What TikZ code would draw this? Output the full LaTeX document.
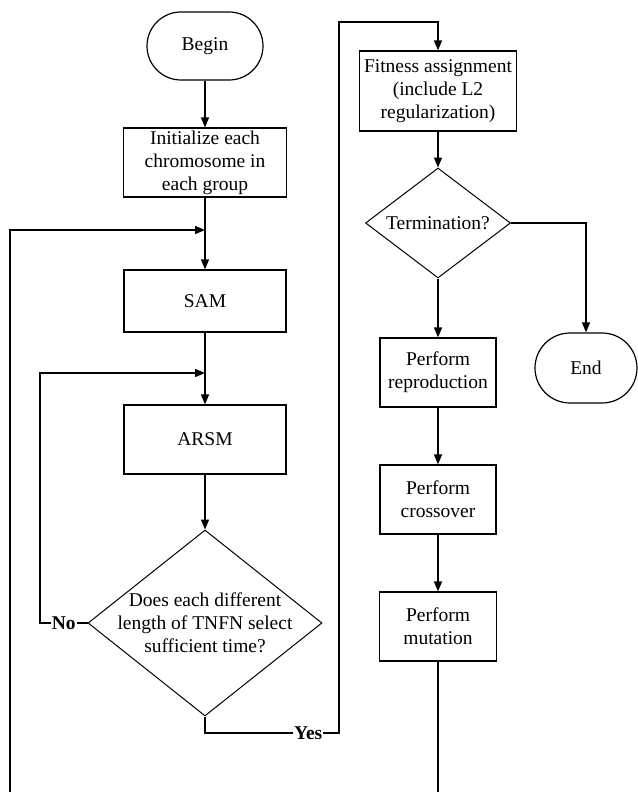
\documentclass[tikz,border=0pt]{standalone}
\usepackage{fontspec}
\setmainfont{Liberation Serif}
\usetikzlibrary{arrows.meta,shapes.misc,shapes.geometric}
\tikzset{
  txt/.style={font=\fontsize{19.5}{23}\selectfont, align=center},
  termnode/.style={draw, line width=1.2pt, rounded rectangle, inner sep=0pt, txt},
  boxnode/.style={draw, line width=1.2pt, rectangle, inner sep=0pt, txt},
  decnode/.style={draw, line width=1pt, diamond, inner sep=0pt},
  conn/.style={line width=1.4pt},
  arr/.style={conn, -{Triangle[length=10pt,width=8pt]}},
  lbl/.style={fill=white, inner sep=1pt, font=\fontsize{19.5}{23}\selectfont\bfseries}
}
\begin{document}
\begin{tikzpicture}[x=1pt,y=-1pt]
\useasboundingbox (0,0) rectangle (637,792);
% left column
\node[termnode, minimum width=116pt, minimum height=68pt] (begin) at (205,46) {Begin};
\node[boxnode, minimum width=163pt, minimum height=69pt] (init) at (205,162.5) {Initialize each\\chromosome in\\each group};
\node[boxnode, minimum width=162pt, minimum height=62pt] (sam) at (205,301) {SAM};
\node[boxnode, minimum width=162pt, minimum height=69pt] (arsm) at (205,439.5) {ARSM};
\node[decnode, minimum width=234pt, minimum height=186pt] (dec) at (205,623) {};
\node[txt] (dectext) at (dec.center) {Does each different\\length of TNFN select\\sufficient time?};
% right column
\node[boxnode, minimum width=157pt, minimum height=80pt] (fit) at (438,91) {Fitness assignment\\(include L2\\regularization)};
\node[decnode, minimum width=145pt, minimum height=110pt] (term) at (438,223) {};
\node[txt] (termtext) at (term.center) {Termination?};
\node[termnode, minimum width=102pt, minimum height=70pt] (end) at (586,368) {End};
\node[boxnode, minimum width=116pt, minimum height=69pt] (rep) at (438,372.5) {Perform\\reproduction};
\node[boxnode, minimum width=116pt, minimum height=69pt] (cross) at (438,499.5) {Perform\\crossover};
\node[boxnode, minimum width=117pt, minimum height=69pt] (mut) at (438,626.5) {Perform\\mutation};
% helper coordinates
\coordinate (j1) at (205,230);
\coordinate (j2) at (205,373);
\coordinate (lb) at (10,792);
\coordinate (nol) at (40,623);
\coordinate (ybot) at (339,733);
\coordinate (ytop) at (339,22);
\coordinate (mb) at (438,792);
% connectors
\draw[arr] (begin.south) -- (init.north);
\draw[arr] (init.south) -- (sam.north);
\draw[arr] (lb) |- (j1);
\draw[arr] (sam.south) -- (arsm.north);
\draw[arr] (arsm.south) -- (dec.north);
\draw[arr] (dec.west) -- node[lbl]{No} (nol) |- (j2);
\draw[arr] (dec.south) -- (dec.south |- ybot) -- node[lbl, pos=0.77]{Yes} (ybot) -- (ytop) -| (fit.north);
\draw[arr] (fit.south) -- (term.north);
\draw[arr] (term.east) -| (end.north);
\draw[arr] (term.south) -- (rep.north);
\draw[arr] (rep.south) -- (cross.north);
\draw[arr] (cross.south) -- (mut.north);
\draw[conn] (mut.south) -- (mb);
\end{tikzpicture}
\end{document}
